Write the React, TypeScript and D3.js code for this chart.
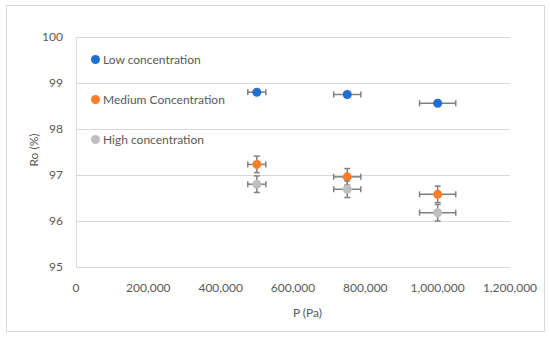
import { useEffect, useRef } from "react";
import * as d3 from "d3";

const pressures = [500000, 750000, 1000000];
const pressureErr = [25000, 37500, 50000];

const lowValues = [98.8, 98.75, 98.56];
const lowErr = [0, 0, 0];
const mediumValues = [97.23, 96.96, 96.58];
const mediumErr = [0.18, 0.18, 0.18];
const highValues = [96.8, 96.69, 96.18];
const highErr = [0.18, 0.18, 0.18];

const seriesNames = ["Low concentration", "Medium Concentration", "High concentration"];
const seriesColors = ["#1f6fd0", "#fb7d26", "#bfbfbf"];

const xTicks = [0, 200000, 400000, 600000, 800000, 1000000, 1200000];
const yTicks = [95, 96, 97, 98, 99, 100];

const W = 550;
const H = 337;
const margin = { top: 37, right: 40, bottom: 70, left: 76 };
const font = "Lato, 'Open Sans', sans-serif";

const App = () => {
  const ref = useRef<SVGSVGElement>(null);

  useEffect(() => {
    const svg = d3.select(ref.current);
    svg.selectAll("*").remove();

    const width = W - margin.left - margin.right;
    const height = H - margin.top - margin.bottom;

    // outer chart frame
    svg
      .append("rect")
      .attr("x", 6.5)
      .attr("y", 5.5)
      .attr("width", 538)
      .attr("height", 326)
      .attr("fill", "#fff")
      .attr("stroke", "#d9d9d9");

    const g = svg
      .append("g")
      .attr("transform", `translate(${margin.left},${margin.top})`);

    const x = d3.scaleLinear().domain([0, 1200000]).range([0, width]);
    const y = d3.scaleLinear().domain([95, 100]).range([height, 0]);

    // gridlines
    g.append("g")
      .selectAll("line")
      .data(yTicks)
      .enter()
      .append("line")
      .attr("x1", 0)
      .attr("x2", width)
      .attr("y1", (d) => Math.round(y(d)) + 0.5)
      .attr("y2", (d) => Math.round(y(d)) + 0.5)
      .attr("stroke", "#d9d9d9")
      .attr("stroke-width", 1);

    g.append("line")
      .attr("x1", 0.5)
      .attr("x2", 0.5)
      .attr("y1", 0)
      .attr("y2", height)
      .attr("stroke", "#d9d9d9");

    // y tick labels
    g.append("g")
      .selectAll("text")
      .data(yTicks)
      .enter()
      .append("text")
      .attr("x", -13)
      .attr("y", (d) => y(d))
      .attr("dy", "0.35em")
      .attr("text-anchor", "end")
      .attr("font-family", font)
      .attr("font-size", 12)
      .attr("fill", "#595959")
      .text((d) => d);

    // x tick labels
    const fmt = d3.format(",");
    g.append("g")
      .selectAll("text")
      .data(xTicks)
      .enter()
      .append("text")
      .attr("x", (d) => x(d))
      .attr("y", height + 25)
      .attr("text-anchor", "middle")
      .attr("font-family", font)
      .attr("font-size", 12)
      .attr("fill", "#595959")
      .text((d) => fmt(d));

    // axis titles
    g.append("text")
      .attr("x", x(640000))
      .attr("y", height + 50)
      .attr("text-anchor", "middle")
      .attr("font-family", font)
      .attr("font-size", 12)
      .attr("fill", "#595959")
      .text("P (Pa)");

    g.append("text")
      .attr("transform", `translate(-38,${height / 2 - 2}) rotate(-90)`)
      .attr("text-anchor", "middle")
      .attr("font-family", font)
      .attr("font-size", 12)
      .attr("fill", "#595959")
      .text("Ro (%)");

    const series = [
      { values: lowValues, err: lowErr },
      { values: mediumValues, err: mediumErr },
      { values: highValues, err: highErr },
    ];

    const cap = 3;
    const barColor = "#808080";

    series.forEach((s, si) => {
      const data = pressures.map((p, i) => ({
        p,
        v: s.values[i],
        ex: pressureErr[i],
        ey: s.err[i],
      }));
      const sg = g.append("g");

      data.forEach((d) => {
        const cx = x(d.p);
        const cy = y(d.v);
        const eb = sg.append("g").attr("stroke", barColor).attr("stroke-width", 1.5);
        // horizontal error bar
        eb.append("line")
          .attr("x1", x(d.p - d.ex))
          .attr("x2", x(d.p + d.ex))
          .attr("y1", cy)
          .attr("y2", cy);
        eb.append("line")
          .attr("x1", x(d.p - d.ex))
          .attr("x2", x(d.p - d.ex))
          .attr("y1", cy - cap)
          .attr("y2", cy + cap);
        eb.append("line")
          .attr("x1", x(d.p + d.ex))
          .attr("x2", x(d.p + d.ex))
          .attr("y1", cy - cap)
          .attr("y2", cy + cap);
        if (d.ey > 0) {
          eb.append("line")
            .attr("x1", cx)
            .attr("x2", cx)
            .attr("y1", y(d.v - d.ey))
            .attr("y2", y(d.v + d.ey));
          eb.append("line")
            .attr("x1", cx - cap)
            .attr("x2", cx + cap)
            .attr("y1", y(d.v - d.ey))
            .attr("y2", y(d.v - d.ey));
          eb.append("line")
            .attr("x1", cx - cap)
            .attr("x2", cx + cap)
            .attr("y1", y(d.v + d.ey))
            .attr("y2", y(d.v + d.ey));
        }
      });

      sg.selectAll("circle")
        .data(data)
        .enter()
        .append("circle")
        .attr("cx", (d) => x(d.p))
        .attr("cy", (d) => y(d.v))
        .attr("r", 4.5)
        .attr("fill", seriesColors[si]);
    });

    // legend
    const legend = svg.append("g");
    seriesNames.forEach((name, i) => {
      const ly = 59.5 + i * 40;
      legend
        .append("circle")
        .attr("cx", 95.5)
        .attr("cy", ly)
        .attr("r", 4.5)
        .attr("fill", seriesColors[i]);
      legend
        .append("text")
        .attr("x", 103)
        .attr("y", ly)
        .attr("dy", "0.35em")
        .attr("font-family", font)
        .attr("font-size", 12)
        .attr("fill", "#595959")
        .text(name);
    });
  }, []);

  return (
    <svg
      ref={ref}
      width={W}
      height={H}
      style={{ position: "absolute", left: 0, top: 0, background: "#fff" }}
    />
  );
};

export default App;
